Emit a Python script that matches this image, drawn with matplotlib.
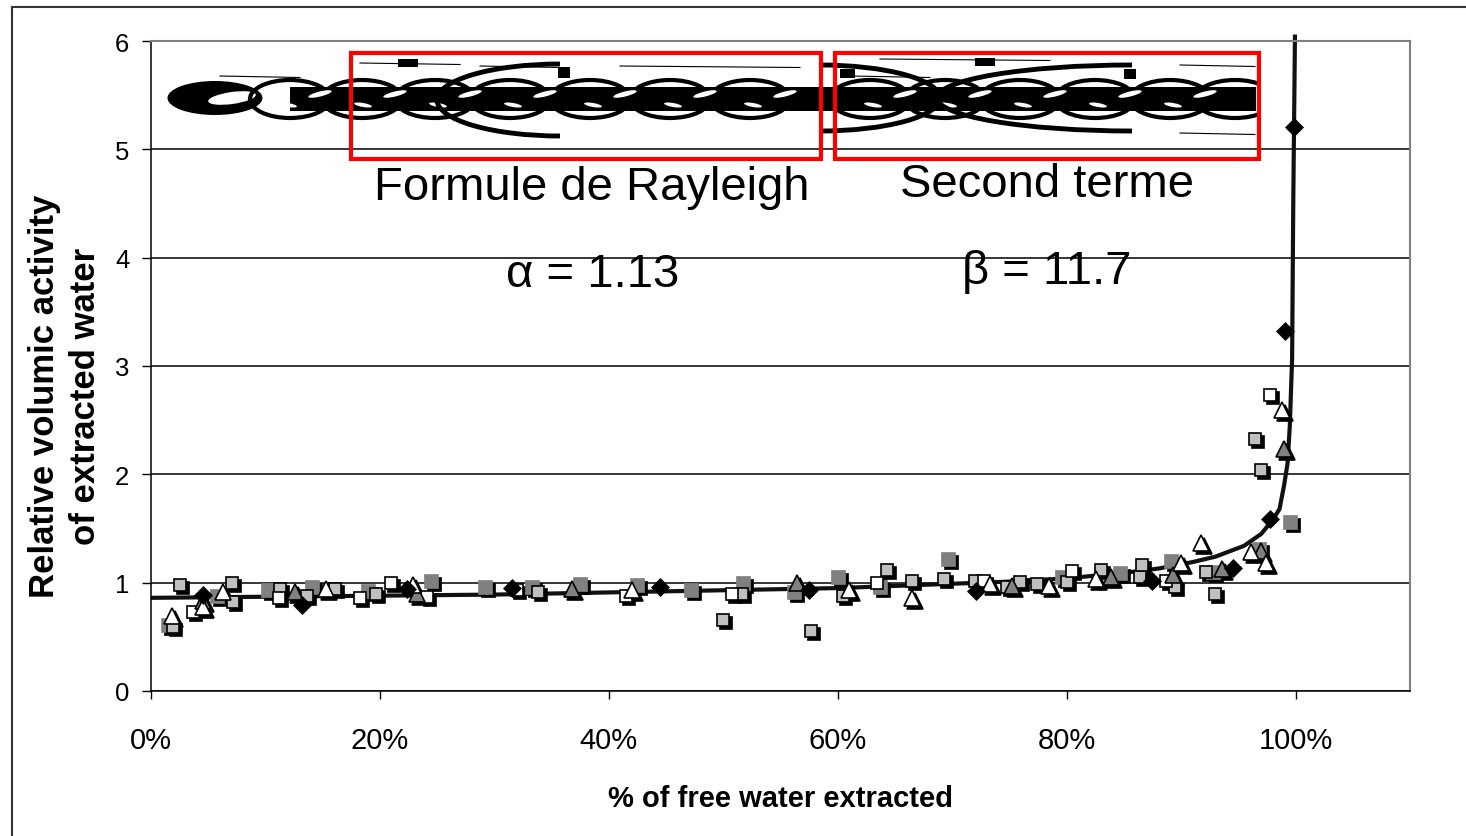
import matplotlib

matplotlib.use("Agg")

import matplotlib.pyplot as plt
import matplotlib.ticker as mticker
import matplotlib.transforms as mtransforms
from matplotlib.lines import Line2D
from matplotlib.patches import Rectangle, Ellipse, Arc

plt.rcParams["font.family"] = ["Liberation Sans", "DejaVu Sans"]

W, H = 1466, 837

# ---------------------------------------------------------------------------
# Values
# ---------------------------------------------------------------------------
# fitted curve (Rayleigh + second term)
CURVE_X = [0.0, 0.1, 0.2, 0.3, 0.4, 0.5, 0.6, 0.65, 0.7, 0.75, 0.8, 0.85,
           0.88, 0.91, 0.93, 0.955, 0.97, 0.98, 0.986, 0.99, 0.993, 0.995,
           0.997, 0.998, 0.9995]
CURVE_Y = [0.86, 0.87, 0.88, 0.89, 0.91, 0.93, 0.95, 0.97, 0.99, 1.01, 1.04,
           1.09, 1.13, 1.19, 1.24, 1.34, 1.45, 1.58, 1.68, 1.90, 2.10, 2.45,
           3.07, 4.50, 6.06]

DIAMOND_X = [0.045, 0.132, 0.224, 0.315, 0.445, 0.575, 0.721, 0.875, 0.945,
             0.978, 0.991, 0.999]
DIAMOND_Y = [0.89, 0.79, 0.94, 0.95, 0.96, 0.93, 0.92, 1.02, 1.14, 1.59,
             3.32, 5.21]

LSQ_X = [0.025, 0.019, 0.071, 0.072, 0.113, 0.136, 0.161, 0.197, 0.338, 0.500,
         0.516, 0.577, 0.605, 0.643, 0.665, 0.693, 0.720, 0.748, 0.759, 0.774,
         0.800, 0.830, 0.864, 0.866, 0.895, 0.922, 0.930, 0.965, 0.970]
LSQ_Y = [0.98, 0.59, 1.00, 0.82, 0.94, 0.88, 0.94, 0.90, 0.91, 0.66,
         0.90, 0.55, 0.88, 1.12, 1.02, 1.03, 1.02, 0.96, 1.01, 0.99,
         1.01, 1.12, 1.05, 1.16, 0.96, 1.10, 0.90, 2.33, 2.04]

DSQ_X = [0.015, 0.058, 0.102, 0.141, 0.190, 0.245, 0.292, 0.333, 0.375, 0.425,
         0.472, 0.517, 0.562, 0.600, 0.637, 0.696, 0.796, 0.847, 0.891, 0.928,
         0.968, 0.995]
DSQ_Y = [0.61, 0.88, 0.93, 0.96, 0.92, 1.02, 0.96, 0.96, 0.99, 0.98,
         0.93, 1.00, 0.91, 1.05, 0.96, 1.22, 1.05, 1.09, 1.20, 1.10,
         1.31, 1.56]

WSQ_X = [0.037, 0.112, 0.183, 0.210, 0.241, 0.320, 0.415, 0.508, 0.634, 0.728,
         0.805, 0.887, 0.978]
WSQ_Y = [0.73, 0.86, 0.86, 1.00, 0.87, 0.93, 0.88, 0.90, 1.00, 1.02,
         1.11, 1.02, 2.73]

WTRI_X = [0.018, 0.045, 0.063, 0.153, 0.229, 0.420, 0.610, 0.665, 0.733, 0.785,
          0.826, 0.900, 0.917, 0.961, 0.974, 0.988]
WTRI_Y = [0.69, 0.78, 0.91, 0.94, 0.98, 0.93, 0.93, 0.86, 0.99, 0.97,
          1.03, 1.18, 1.37, 1.28, 1.18, 2.59]

GTRI_X = [0.045, 0.126, 0.232, 0.368, 0.564, 0.752, 0.839, 0.893, 0.936, 0.970,
          0.990]
GTRI_Y = [0.83, 0.91, 0.90, 0.94, 1.00, 0.97, 1.05, 1.07, 1.13, 1.29, 2.23]

Y_TICKS = [0, 1, 2, 3, 4, 5, 6]
X_TICKS = [0.0, 0.2, 0.4, 0.6, 0.8, 1.0]

# ---------------------------------------------------------------------------
fig = plt.figure(figsize=(W / 100, H / 100), dpi=100)
ax = fig.add_axes([151 / W, 1 - 692 / H, 1259 / W, 650 / H])
ax.set_xlim(0, 1.1)
ax.set_ylim(0, 6)
ax.set_xticks(X_TICKS)
ax.set_yticks(Y_TICKS)
ax.xaxis.set_major_formatter(mticker.PercentFormatter(xmax=1, decimals=0))
ax.tick_params(axis="x", direction="out", length=6, width=1, pad=19,
               labelsize=21)
ax.tick_params(axis="y", direction="out", length=6.5, width=1, pad=9,
               labelsize=18.5)
ax.yaxis.grid(True, color="black", lw=1.1)
ax.set_axisbelow(True)
for side in ("top", "right"):
    ax.spines[side].set_color("#808080")
    ax.spines[side].set_linewidth(1.5)
for side in ("left", "bottom"):
    ax.spines[side].set_linewidth(1.1)

ax.plot(CURVE_X, CURVE_Y, color="#111111", lw=3, zorder=2, clip_on=False,
        solid_capstyle="butt")

shadow = mtransforms.offset_copy(ax.transData, fig=fig, x=3, y=-3,
                                 units="dots")


def marks(xs, ys, marker, ms, face, edge, ew, with_shadow=True):
    if with_shadow:
        ax.plot(xs, ys, ls="none", marker=marker, ms=ms, mfc="black",
                mec="black", mew=ew, transform=shadow, zorder=3)
    ax.plot(xs, ys, ls="none", marker=marker, ms=ms, mfc=face, mec=edge,
            mew=ew, zorder=4)


marks(DSQ_X, DSQ_Y, "s", 9.5, "#808080", "#808080", 0.5)
marks(LSQ_X, LSQ_Y, "s", 9, "#c0c0c0", "black", 1.2)
marks(WSQ_X, WSQ_Y, "s", 9, "white", "black", 1.2)
marks(GTRI_X, GTRI_Y, "^", 11, "#808080", "black", 1.2)
marks(WTRI_X, WTRI_Y, "^", 11, "white", "black", 1.2)
marks(DIAMOND_X, DIAMOND_Y, "D", 9, "black", "black", 0.5, with_shadow=False)

# annotations
ax.text(0.385, 4.65, "Formule de Rayleigh", fontsize=34, ha="center",
        va="center")
ax.text(0.7825, 4.68, "Second terme", fontsize=34, ha="center", va="center")
ax.text(0.386, 3.85, "α = 1.13", fontsize=34, ha="center", va="center")
ax.text(0.7825, 3.88, "β = 11.7", fontsize=34, ha="center", va="center")

ax.set_xlabel("% of free water extracted", fontsize=21, fontweight="bold")
ax.xaxis.set_label_coords(0.5, -0.143)
fig.text(65 / W, 1 - 396 / H,
         "Relative volumic activity\nof extracted water", rotation=90,
         fontsize=25, fontweight="bold", ha="center", va="center",
         linespacing=1.3)

# ---------------------------------------------------------------------------
# broken equation objects (rendered as garbled glyphs) and their red boxes,
# placed in reference-pixel coordinates
# ---------------------------------------------------------------------------
px = mtransforms.Affine2D().scale(1 / W, -1 / H).translate(0, 1) + fig.transFigure
garble_clip = Rectangle((150, 40), 1107, 115, transform=px)


def add(p, clip=False):
    p.set_transform(px)
    if clip:
        p.set_clip_on(True)
        p.set_clip_path(garble_clip)
    else:
        p.set_clip_on(False)
    fig.add_artist(p)


add(Rectangle((290, 88), 966, 24, facecolor="black", edgecolor="none"), True)
add(Ellipse((215, 99), 95, 34, facecolor="black", edgecolor="none"), True)
add(Ellipse((232, 99), 48, 12, angle=-8, facecolor="white", edgecolor="none"),
    True)
for cx in [290, 362, 435, 510, 590, 670, 750, 870, 945, 1020, 1095, 1170, 1235]:
    add(Ellipse((cx, 100), 80, 38, facecolor="none", edgecolor="black", lw=3),
        True)
for cx in [320, 395, 470, 545, 625, 705, 785, 905, 980, 1055, 1130, 1205]:
    add(Ellipse((cx, 95), 24, 5, angle=-14, facecolor="white",
                edgecolor="none"), True)
    add(Ellipse((cx - 32, 106), 18, 4, angle=10, facecolor="white",
                edgecolor="none"), True)
add(Arc((560, 101), 246, 72, theta1=90, theta2=270, color="black", lw=3.5),
    True)
add(Arc((820, 99), 240, 66, theta1=-90, theta2=90, color="black", lw=3.5),
    True)
add(Arc((1132, 99), 390, 66, theta1=90, theta2=270, color="black", lw=3.5),
    True)
for x0, y0, w, h in [(398, 60, 20, 8), (558, 68, 12, 11), (840, 70, 15, 9),
                     (975, 59, 20, 8), (1124, 70, 12, 10)]:
    add(Rectangle((x0, y0), w, h, facecolor="black", edgecolor="none"), True)
for x0, x1, y0 in [(360, 460, 64), (480, 560, 67), (620, 800, 67),
                   (880, 1050, 60), (1180, 1255, 66), (1180, 1255, 134),
                   (220, 300, 77), (850, 930, 77)]:
    add(Line2D([x0, x1], [y0, y0 + 1.5], color="black", lw=0.8), True)

add(Rectangle((351, 54), 470, 106, facecolor="none", edgecolor="#ff0000",
              lw=3))
add(Rectangle((835, 54), 424, 106, facecolor="none", edgecolor="#ff0000",
              lw=3))

# outer chart frame (top and left visible)
add(Line2D([12, W], [8, 8], color="#333333", lw=1.5))
add(Line2D([12, 12], [8, H], color="#333333", lw=1.5))

fig.savefig("out.png", dpi=100)
